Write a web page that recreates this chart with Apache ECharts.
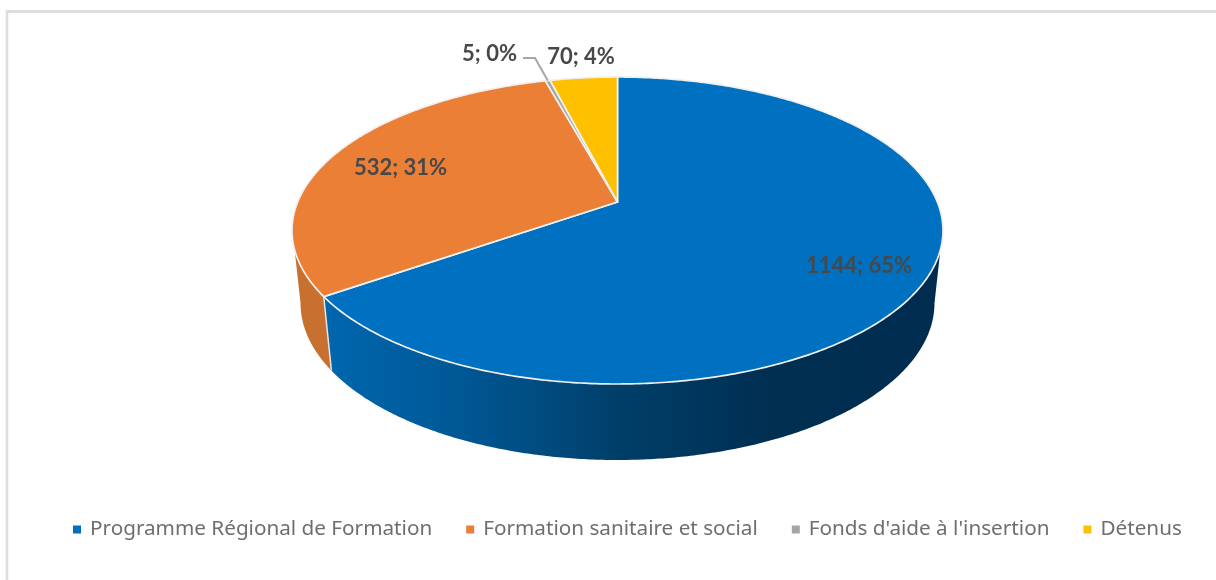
<!DOCTYPE html>
<html>
<head>
<meta charset="utf-8">
<style>html,body{margin:0;padding:0;background:#fff}#c{width:1216px;height:580px}</style>
<script src="https://cdn.jsdelivr.net/npm/echarts@6/dist/echarts.min.js"></script>
</head>
<body>
<div id="c"></div>
<script>
const categories = ["Programme Régional de Formation", "Formation sanitaire et social", "Fonds d'aide à l'insertion", "Détenus"];
const values = [1144, 532, 5, 70];
const percentLabels = [65, 31, 0, 4];
const colors = ["#0070c0", "#eb7f35", "#a5a5a5", "#ffc000"];

const total = values.reduce((a, b) => a + b, 0);
const TAU = Math.PI * 2;

// Layout of the tilted disc
const cx = 617.5, cyTop = 230.5, rxTop = 325.5, ryTop = 153.5, apexY = 202;
const cyBot = 303, rxBot = 317, ryBot = 157;
const phiEdge = 0.127;

// Perspective projection of the unit circle onto the top ellipse
const persp = (apexY * 2 - 461) / 307;
const persA = 384 + 384 * persp - apexY;
const persD = rxTop * Math.sqrt(1 - persp * persp);
function project(a) {            // a: clockwise from 12 o'clock
  const X = Math.sin(a), S = -Math.cos(a), w = 1 + persp * S;
  return [cx + persD * X / w, (persA * S + apexY) / w];
}
function phiOf(a) {
  const p = project(a);
  let f = Math.atan2((p[1] - cyTop) / ryTop, (p[0] - cx) / rxTop);
  if (f < -Math.PI / 2 - 1e-9) f += TAU;
  return f;
}
const topAt = f => [cx + rxTop * Math.cos(f), cyTop + ryTop * Math.sin(f)];
const botAt = f => [cx + rxBot * Math.cos(f), cyBot + ryBot * Math.sin(f)];

function sweep(from, to, fn, out) {
  const n = Math.max(2, Math.ceil(Math.abs(to - from) / 0.01));
  for (let i = 0; i <= n; i++) out.push(fn(from + (to - from) * i / n));
  return out;
}

const wallFills = [
  new echarts.graphic.LinearGradient(331, 0, 940, 0, [
    { offset: 0, color: "#0066ad" },
    { offset: 0.18, color: "#005a99" },
    { offset: 0.33, color: "#004d82" },
    { offset: 0.48, color: "#003e68" },
    { offset: 0.72, color: "#002f52" },
    { offset: 1, color: "#002d4f" }
  ], true),
  "#c8702f", "#8a8a8a", "#bf9000"
];

const labelLayout = [
  { x: 859, y: 266 },
  { x: 400.5, y: 168 },
  { x: 489.5, y: 54 },
  { x: 581, y: 57 }
];
const labelFont = 'bold 22px Lato, "Liberation Sans", sans-serif';

function renderSlice(params, api) {
  const i = params.seriesIndex;
  const v = api.value(0);
  // Slices run clockwise from 12 o'clock in category order
  let before = 0;
  for (let k = 0; k < i; k++) before += values[k];
  const a0 = before / total * TAU;
  const a1 = (before + v) / total * TAU;

  const children = [];

  // Wall
  const fA = phiOf(a0 === 0 ? 1e-6 : a0), fB = phiOf(a1 >= TAU ? TAU - 1e-6 : a1);
  const s = Math.max(fA, phiEdge), e = Math.min(fB, Math.PI - phiEdge);
  if (s < e) {
    const bS = fA <= phiEdge ? 0 : fA;
    const bE = fB >= Math.PI - phiEdge ? Math.PI : fB;
    const pts = [];
    sweep(s, e, topAt, pts);
    sweep(bE, bS, botAt, pts);
    children.push({ type: "polygon", z2: 1, shape: { points: pts },
      style: { fill: wallFills[i], stroke: null } });
    if (fB < Math.PI - phiEdge) {
      const t = topAt(fB), b = botAt(fB);
      children.push({ type: "line", z2: 2,
        shape: { x1: t[0], y1: t[1], x2: b[0], y2: b[1] },
        style: { stroke: "#e4e4e4", lineWidth: 1.5 } });
    }
  }

  // Top face
  const top = [[cx, apexY]];
  sweep(a0, a1, project, top);
  children.push({ type: "polygon", z2: 5, shape: { points: top },
    style: { fill: colors[i], stroke: "#f0f0f0", lineWidth: 1.7, lineJoin: "round" } });

  // Leader for the tiny slice
  if (i === 2) {
    const m = project((a0 + a1) / 2);
    children.push({ type: "polyline", z2: 7,
      shape: { points: [[523, 58], [535, 58], m] },
      style: { fill: null, stroke: "#a6a6a6", lineWidth: 2 } });
  }

  // Label
  children.push({ type: "text", z2: 10, style: {
    text: v + "; " + percentLabels[i] + "%",
    x: labelLayout[i].x, y: labelLayout[i].y,
    align: "center", verticalAlign: "middle",
    fill: "#484848", font: labelFont
  } });

  return { type: "group", children };
}

const chart = echarts.init(document.getElementById("c"), null, { renderer: "canvas" });
chart.setOption({
  animation: false,
  backgroundColor: "#ffffff",
  legend: {
    data: categories,
    left: 73, top: 519,
    itemWidth: 8, itemHeight: 8, itemGap: 34,
    icon: "rect",
    selectedMode: false,
    padding: 0,
    textStyle: { color: "#6e6e6e", fontSize: 20.7, fontFamily: '"Noto Sans", "Open Sans", sans-serif', padding: [0, 0, 0, 4] }
  },
  graphic: [
    { type: "line", silent: true, shape: { x1: 7, y1: 11.5, x2: 1216, y2: 11.5 }, style: { stroke: "#dedede", lineWidth: 3 } },
    { type: "line", silent: true, shape: { x1: 7, y1: 10, x2: 7, y2: 580 }, style: { stroke: "#dedede", lineWidth: 2.5 } }
  ],
  series: categories.map((name, i) => ({
    type: "custom",
    name,
    coordinateSystem: "none",
    silent: true,
    itemStyle: { color: colors[i] },
    renderItem: renderSlice,
    data: [[values[i]]]
  }))
});
</script>
</body>
</html>
